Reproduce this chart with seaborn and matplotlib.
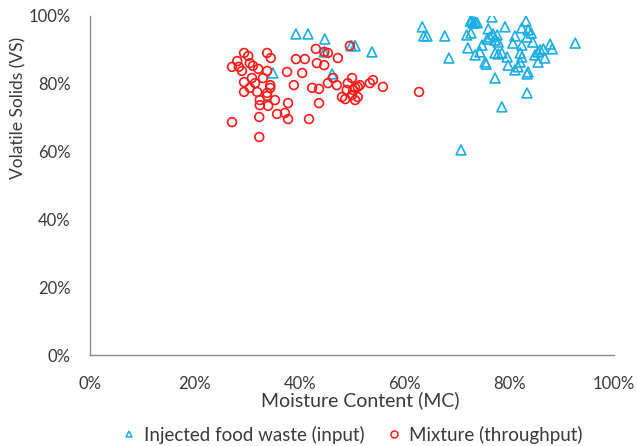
import matplotlib
matplotlib.use("Agg")
import matplotlib.pyplot as plt
from matplotlib.lines import Line2D
from matplotlib.ticker import FuncFormatter
import seaborn as sns
import pandas as pd

# Injected food waste (input): moisture content % / volatile solids %
food_mc = [39.3, 41.6, 44.8, 44.7, 49.8, 50.6, 53.8, 34.9, 46.2, 63.4,
           63.7, 64.3, 67.7, 68.5, 72.9, 73.1, 73.5, 76.7, 83.2, 71.9,
           72.7, 76.0, 79.2, 82.4, 83.6, 76.3, 76.9, 77.3, 77.9, 75.8,
           81.1, 83.4, 84.2, 84.5, 80.7, 82.4, 74.8, 72.1, 74.4, 73.5,
           77.9, 78.6, 79.6, 82.1, 82.4, 85.9, 86.5, 87.8, 88.2, 84.9,
           85.5, 86.8, 82.1, 81.7, 79.8, 75.4, 75.6, 81.1, 83.6, 83.4,
           92.6, 77.3, 83.4, 78.6, 70.8, 77.7, 77.3, 85.5, 72.6, 73.9]
food_vs = [94.7, 94.7, 93.2, 89.4, 91.2, 91.2, 89.4, 83.2, 82.9, 96.8,
           94.1, 94.1, 94.1, 87.6, 98.8, 97.9, 98.2, 99.7, 98.5, 94.4,
           95.0, 96.2, 96.8, 96.5, 95.9, 93.8, 94.7, 92.9, 92.3, 93.2,
           94.1, 93.8, 95.0, 92.3, 92.0, 91.4, 91.4, 90.6, 89.4, 88.5,
           88.8, 89.1, 87.9, 89.1, 87.9, 90.0, 90.3, 91.7, 90.3, 88.5,
           86.4, 87.6, 86.4, 85.0, 85.5, 86.4, 85.8, 84.1, 83.5, 82.9,
           92.0, 81.7, 77.3, 73.2, 60.5, 94.4, 89.1, 89.4, 98.5, 98.0]

# Mixture (throughput): moisture content % / volatile solids %
mix_mc = [27.1, 28.1, 29.4, 30.2, 28.4, 29.0, 30.5, 31.1, 32.1, 33.8,
          34.5, 33.8, 29.4, 30.9, 31.5, 33.0, 34.4, 29.4, 30.5, 31.9,
          33.8, 34.4, 32.4, 33.8, 35.3, 32.4, 34.0, 35.7, 37.2, 37.8,
          32.3, 27.1, 32.3, 37.6, 39.3, 41.0, 40.5, 38.9, 37.8, 41.8,
          42.4, 43.7, 43.7, 43.1, 44.7, 45.4, 43.3, 44.7, 47.3, 45.4,
          47.1, 46.4, 49.6, 50.0, 49.2, 49.0, 50.2, 48.1, 48.7, 50.0,
          50.6, 51.1, 51.5, 50.6, 51.1, 53.4, 54.0, 55.9, 62.8]
mix_vs = [85.0, 86.7, 89.1, 88.2, 85.0, 83.8, 86.1, 85.3, 84.4, 89.1,
          87.6, 83.8, 80.5, 81.7, 80.2, 81.7, 79.6, 77.6, 78.8, 77.6,
          77.3, 78.8, 75.2, 76.4, 75.2, 73.7, 73.5, 71.1, 71.4, 69.6,
          70.2, 68.7, 64.3, 83.5, 87.3, 87.3, 83.2, 79.6, 74.3, 69.6,
          78.8, 78.5, 74.3, 90.3, 89.4, 89.1, 86.1, 85.5, 87.6, 80.2,
          79.6, 81.7, 91.2, 81.7, 80.2, 78.2, 78.2, 76.1, 75.5, 76.7,
          75.2, 79.1, 79.6, 78.8, 76.1, 80.2, 81.1, 79.1, 77.6]

series_names = ["Injected food waste (input)", "Mixture (throughput)"]
x_ticks = [0, 20, 40, 60, 80, 100]
y_ticks = [0, 20, 40, 60, 80, 100]

food = pd.DataFrame({"mc": food_mc, "vs": food_vs})
mix = pd.DataFrame({"mc": mix_mc, "vs": mix_vs})

BLUE = "#1aaee6"
RED = "#ff1a1a"
AXIS = "#8c8c8c"
TEXT = "#3a3a3a"

sns.set_style("white")
plt.rcParams["font.family"] = ["Lato", "DejaVu Sans"]

fig = plt.figure(figsize=(6.37, 4.46), dpi=100)
ax = fig.add_axes([90 / 637, 1 - 355 / 446, 524 / 637, 339 / 446])

sns.scatterplot(data=food, x="mc", y="vs", ax=ax, marker="^", s=50,
                facecolor="none", edgecolor=BLUE, linewidth=1.2, zorder=3)
sns.scatterplot(data=mix, x="mc", y="vs", ax=ax, marker="o", s=40,
                facecolor="none", edgecolor=RED, linewidth=1.2, zorder=3)

ax.set_xlim(0, 100)
ax.set_ylim(0, 100)
ax.set_xticks(x_ticks)
ax.set_yticks(y_ticks)
pct = FuncFormatter(lambda v, _: f"{v:.0f}%")
ax.xaxis.set_major_formatter(pct)
ax.yaxis.set_major_formatter(pct)

for side in ("top", "right"):
    ax.spines[side].set_visible(False)
for side in ("left", "bottom"):
    ax.spines[side].set_color(AXIS)
    ax.spines[side].set_linewidth(1.0)

ax.tick_params(axis="both", direction="out", length=5, width=1.0,
               color=AXIS, labelsize=12, labelcolor=TEXT)
ax.tick_params(axis="x", pad=10)
ax.tick_params(axis="y", pad=9)

ax.set_xlabel("Moisture Content (MC)", fontsize=14, color=TEXT)
ax.xaxis.set_label_coords(0.515, -0.108)
ax.set_ylabel("Volatile Solids (VS)", fontsize=12.5, color=TEXT)
ax.yaxis.set_label_coords(-0.122, 0.73)

handles = [
    Line2D([], [], linestyle="none", marker="^", markersize=5,
           markerfacecolor="none", markeredgecolor=BLUE, markeredgewidth=1.1),
    Line2D([], [], linestyle="none", marker="o", markersize=5,
           markerfacecolor="none", markeredgecolor=RED, markeredgewidth=1.1),
]
fig.legend(handles, series_names, loc="center", ncol=2, frameon=False,
           bbox_to_anchor=(352 / 637, 1 - 435 / 446), fontsize=13.5,
           handlelength=0.8, handletextpad=0.4, columnspacing=1.2,
           labelcolor=TEXT)

fig.savefig("out.png", dpi=100)
